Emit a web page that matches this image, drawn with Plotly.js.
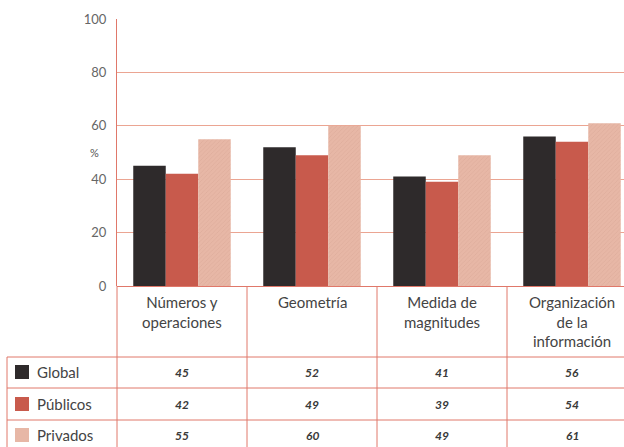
<!DOCTYPE html>
<html><head><meta charset="utf-8">
<script src="https://cdn.plot.ly/plotly-3.0.1.min.js"></script>
<style>html,body{margin:0;padding:0;background:#fff}</style>
</head><body><div id="chart" style="width:624px;height:447px"></div>
<script>
const categories = ["Números y<br>operaciones", "Geometría", "Medida de<br>magnitudes", "Organización<br>de la<br>información"];
const seriesNames = ["Global", "Públicos", "Privados"];
const globalVals = [45, 52, 41, 56];
const publicosVals = [42, 49, 39, 54];
const privadosVals = [55, 60, 49, 61];
const yTicks = [0, 20, 40, 60, 80, 100];

const W = 624, H = 447, ML = 117, MR = 0, MT = 19, MB = 161;
const PW = W - ML - MR, PH = H - MT - MB;
const px = x => (x - ML) / PW;           // pixel x -> paper
const py = y => (H - MB - y) / PH;       // pixel y -> paper

const FONT = "Lato, 'DejaVu Sans', sans-serif";
const lineCol = "#e0786a";
const colors = ["#2e2a2b", "#c85a4c", "#e7b7a6"];
const valsAll = [globalVals, publicosVals, privadosVals];

const traces = valsAll.map((v, i) => {
  const t = {type: "bar", name: seriesNames[i], x: categories, y: v,
    marker: {color: colors[i], line: {width: 0}}, hoverinfo: "skip"};
  if (i === 2) t.marker.pattern = {shape: "/", fgcolor: "#dcaa99", bgcolor: colors[2], size: 3, solidity: 0.2};
  return t;
});

const shapes = [];
const annotations = [];
const L = (x0, y0, x1, y1, xref) => shapes.push({type: "line", xref: xref || "paper", yref: "paper",
  x0, y0, x1, y1, line: {color: lineCol, width: 1}});

// table horizontal lines
[357, 388, 420].forEach(y => L(px(7), py(y), 1, py(y)));
// vertical lines under plot
L(px(117), py(286), px(117), py(447));
[0.5, 1.5, 2.5].forEach(c => L(c, py(286), c, py(447), "x"));
L(px(7), py(357), px(7), py(447));

// category labels
categories.forEach((c, i) => annotations.push({xref: "x", yref: "paper", x: i, y: py(291),
  yanchor: "top", xanchor: "center", text: c, showarrow: false,
  font: {family: FONT, size: 15, color: "#444"}}));

const rowY = [372, 404, 435];
seriesNames.forEach((n, r) => {
  shapes.push({type: "rect", xref: "paper", yref: "paper", x0: px(15), x1: px(29),
    y0: py(rowY[r] + 7), y1: py(rowY[r] - 7), line: {width: 0}, fillcolor: colors[r]});
  annotations.push({xref: "paper", yref: "paper", x: px(35), y: py(rowY[r]), xanchor: "left",
    yanchor: "middle", text: n, showarrow: false, font: {family: FONT, size: 15, color: "#444"}});
  valsAll[r].forEach((v, i) => annotations.push({xref: "x", yref: "paper", x: i, y: py(rowY[r]),
    xanchor: "center", yanchor: "middle", text: "<i><b>" + v + "</b></i>", showarrow: false,
    font: {family: FONT, size: 12, color: "#3a3a3a"}}));
});

// % label
annotations.push({xref: "paper", yref: "paper", x: px(88), y: py(152), text: "%", showarrow: false,
  font: {family: FONT, size: 11, color: "#555"}});

const layout = {
  width: W, height: H, margin: {l: ML, r: MR, t: MT, b: MB},
  paper_bgcolor: "#fff", plot_bgcolor: "#fff",
  barmode: "group", bargap: 0.25, bargroupgap: 0, showlegend: false,
  xaxis: {type: "category", range: [-0.5, 3.4], showticklabels: false, showgrid: false,
    showline: false, zeroline: false, ticks: ""},
  yaxis: {range: [0, 100], tickvals: yTicks, ticktext: yTicks.map(String), showgrid: true,
    gridcolor: "#eba592", gridwidth: 1, zeroline: true, zerolinecolor: lineCol, zerolinewidth: 1,
    showline: true, linecolor: lineCol, linewidth: 1, ticks: "", ticklabelstandoff: 7,
    tickfont: {family: FONT, size: 13, color: "#666"}},
  shapes, annotations
};
Plotly.newPlot("chart", traces, layout, {displayModeBar: false, staticPlot: true});
</script></body></html>
